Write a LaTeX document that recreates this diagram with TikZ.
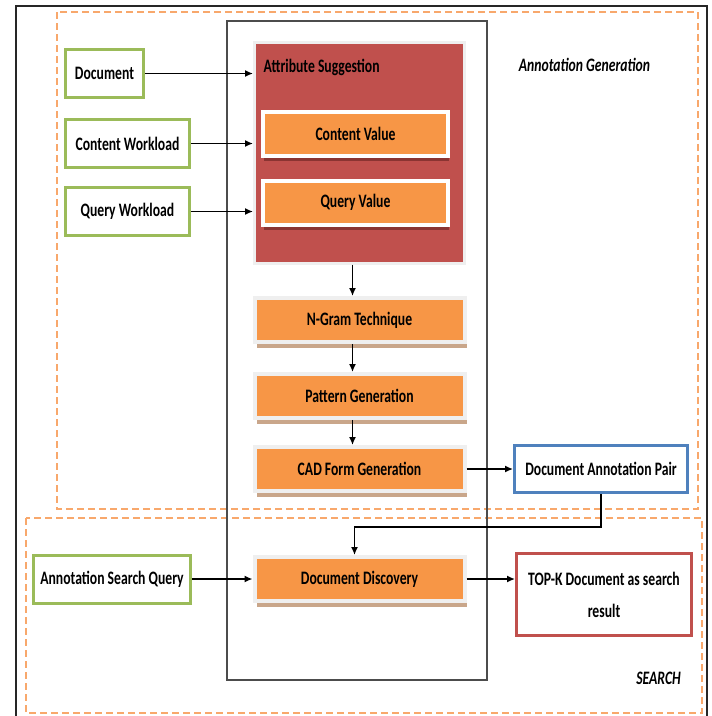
\documentclass[tikz,border=0pt]{standalone}
\usepackage{fontspec}
\setmainfont{Carlito}[FakeStretch=0.72]
\usetikzlibrary{arrows.meta, shadows}

\definecolor{greenline}{HTML}{9BBB59}
\definecolor{blueline}{HTML}{4F81BD}
\definecolor{redline}{HTML}{C0504D}
\definecolor{orangefill}{HTML}{F79646}
\definecolor{dashorange}{HTML}{F8A86C}
\definecolor{halogray}{HTML}{EFEFEF}
\definecolor{shadowtan}{HTML}{C9A68A}
\definecolor{shadowred}{HTML}{8A3432}

\tikzset{
    inbox/.style={draw=greenline, line width=3pt, fill=white, minimum height=48pt},
    pairbox/.style={draw=blueline, line width=3pt, fill=white, minimum height=47pt},
    resultbox/.style={draw=redline, line width=3pt, fill=white, minimum height=82pt},
    attrbox/.style={draw=halogray, line width=3pt, fill=redline, minimum width=210pt, minimum height=221pt},
    valuebox/.style={draw=white, line width=4pt, fill=orangefill, minimum width=185pt, minimum height=44pt,
        general shadow={fill=shadowred, shadow xshift=1pt, shadow yshift=-5pt}},
    stage/.style={draw=halogray, line width=4pt, fill=orangefill, minimum width=210pt, minimum height=44pt,
        general shadow={fill=shadowtan, shadow xshift=2pt, shadow yshift=-6pt}},
    region/.style={draw=dashorange, line width=1.5pt, dash pattern=on 7pt off 4pt},
    regiontitle/.style={font=\fontsize{19}{32}\selectfont\bfseries\itshape}
}

\begin{document}
\begin{tikzpicture}[x=1pt, y=-1pt, line width=1.4pt, >={Latex[length=8pt, width=7pt]},
    every node/.style={inner sep=0pt, font=\fontsize{19}{32}\selectfont\bfseries}]
    \useasboundingbox (0,0) rectangle (712,716);
    \clip (0,0) rectangle (712,716);

    % frame and the two regions
    \draw[line width=2pt, black!85] (16,6) rectangle (707,740);
    \draw[region] (57,12) rectangle (698,509);
    \draw[region] (26,518) rectangle (702,713);
    \draw[line width=1.2pt, black!70] (227,21) rectangle (487,680);

    \node[regiontitle] (gentitle) at (584.5,65) {Annotation Generation};
    \node[regiontitle] (searchtitle) at (658.5,678) {SEARCH};

    % attribute suggestion
    \node[attrbox] (attr) at (359.5,152.5) {};
    \node[anchor=west] (attrtitle) at (263,67) {Attribute Suggestion};
    \node[valuebox] (cval) at (355.5,134) {Content Value};
    \node[valuebox] (qval) at (355.5,202.5) {Query Value};

    % inputs
    \node[inbox, minimum width=78pt] (doc) at (104.5,73.5) {Document};
    \node[inbox, minimum width=124pt] (cw) at (127.5,143.5) {Content Workload};
    \node[inbox, minimum width=124pt] (qw) at (127.5,211.5) {Query Workload};
    \node[inbox, minimum width=157pt] (asq) at (112,579) {Annotation Search Query};

    % pipeline
    \node[stage] (ngram) at (359.5,320) {N-Gram Technique};
    \node[stage] (pattern) at (359.5,396) {Pattern Generation};
    \node[stage] (cad) at (359.5,469) {CAD Form Generation};
    \node[stage] (dd) at (359.5,579) {Document Discovery};

    \node[pairbox, minimum width=173pt] (dap) at (601,469) {Document Annotation Pair};
    \node[resultbox, minimum width=175pt, align=center] (topk) at (604,594.5)
        {TOP-K Document as search\\result};

    \coordinate (turn) at (601,527);

    \draw[->] (doc.east) -- (doc.east -| attr.west);
    \draw[->] (cw.east) -- (cw.east -| attr.west);
    \draw[->] (qw.east) -- (qw.east -| attr.west);
    \draw[->] ([xshift=-7pt]attr.south) -- ([xshift=-7pt]ngram.north);
    \draw[->] ([xshift=-7pt]ngram.south) -- ([xshift=-7pt]pattern.north);
    \draw[->] ([xshift=-7pt]pattern.south) -- ([xshift=-7pt]cad.north);
    \draw[->] (cad.east) -- (dap.west);
    \draw[->] (dap.south) -- (turn) -| ([xshift=-5pt]dd.north);
    \draw[->] (asq.east) -- (dd.west);
    \draw[->] (dd.east) -- (dd.east -| topk.west);
\end{tikzpicture}
\end{document}
